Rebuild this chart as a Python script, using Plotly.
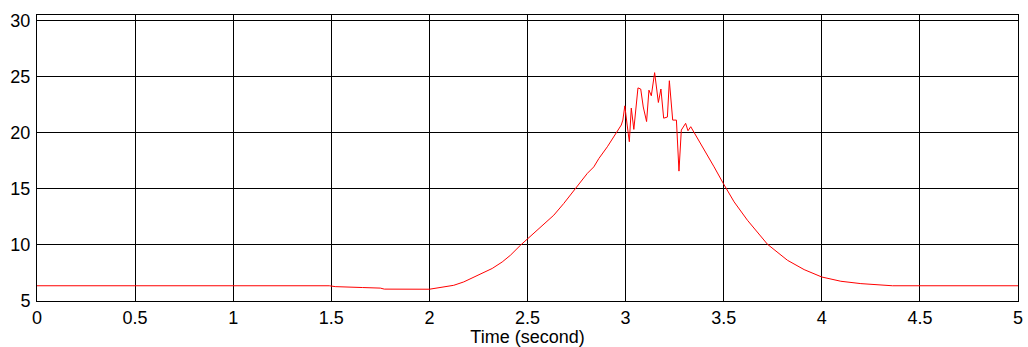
import plotly.graph_objects as go

time_s = [0, 1.49, 1.52, 1.64, 1.66, 1.75, 1.77, 2.0, 2.056, 2.124, 2.175, 2.26, 2.32,
          2.371, 2.413, 2.464, 2.515, 2.575, 2.634, 2.685, 2.745, 2.805, 2.838, 2.864,
          2.907, 2.958, 2.978, 2.986, 2.996, 3.008, 3.019, 3.029, 3.042, 3.063, 3.077,
          3.090, 3.107, 3.119, 3.131, 3.148, 3.167, 3.180, 3.194, 3.213, 3.223, 3.240,
          3.259, 3.272, 3.284, 3.306, 3.318, 3.332, 3.383, 3.451, 3.498, 3.553, 3.621,
          3.723, 3.825, 3.910, 4.0, 4.097, 4.199, 4.30, 4.36, 5.0]
value = [6.36, 6.36, 6.28, 6.26, 6.2, 6.15, 6.06, 6.05, 6.2, 6.4, 6.7, 7.38, 7.9,
         8.48, 9.08, 9.97, 10.78, 11.76, 12.65, 13.7, 15.04, 16.38, 16.96, 17.71,
         18.75, 20.1, 20.69, 21.13, 22.4, 20.69, 19.2, 22.2, 20.3, 24.0, 23.9,
         22.3, 21.0, 23.8, 23.3, 25.36, 22.7, 23.9, 21.3, 21.4, 24.64, 21.13,
         21.13, 16.58, 20.24, 20.84, 20.18, 20.54, 19.05, 16.96, 15.48, 13.84, 12.2,
         10.06, 8.63, 7.80, 7.14, 6.76, 6.55, 6.42, 6.36, 6.36]

x_ticks = [0, 0.5, 1, 1.5, 2, 2.5, 3, 3.5, 4, 4.5, 5]
x_tick_labels = ["0", "0.5", "1", "1.5", "2", "2.5", "3", "3.5", "4", "4.5", "5"]
y_ticks = [5, 10, 15, 20, 25, 30]
y_tick_labels = ["5", "10", "15", "20", "25", "30"]

fig = go.Figure()
fig.add_trace(go.Scatter(x=time_s, y=value, mode="lines",
                         line=dict(color="#ff0000", width=1), showlegend=False))

font = dict(family="Liberation Sans, Arial, sans-serif", size=18, color="#000000")
fig.update_layout(
    width=1028, height=347,
    margin=dict(l=37, r=10, t=15, b=46),
    paper_bgcolor="white", plot_bgcolor="white",
    font=font,
    xaxis=dict(range=[0, 5], tickvals=x_ticks, ticktext=x_tick_labels,
               showgrid=True, gridcolor="#000000", gridwidth=1,
               showline=True, linecolor="#000000", linewidth=1, mirror=True,
               ticks="", zeroline=False, automargin=False,
               title=dict(text="Time (second)", standoff=2, font=font)),
    yaxis=dict(range=[5, 30.5], tickvals=y_ticks, ticktext=y_tick_labels,
               showgrid=True, gridcolor="#000000", gridwidth=1,
               showline=True, linecolor="#000000", linewidth=1, mirror=True,
               ticks="", zeroline=False, automargin=False, ticklabelstandoff=2),
)
fig.write_html("out.html")
